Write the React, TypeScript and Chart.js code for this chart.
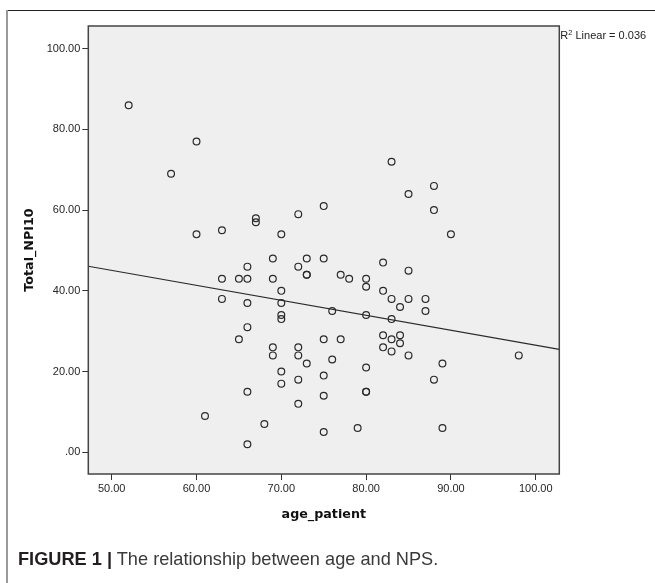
import React, { useEffect, useRef } from "react";
import { Chart, registerables } from "chart.js";

Chart.register(...registerables);

// Scatter data: age_patient vs Total_NPI10
const ageValues = [
  52, 57, 60, 60, 63, 67, 67, 70, 72, 75, 83, 85, 88, 88, 90,
  69, 66, 63, 65, 66, 69, 70, 63, 66, 70, 70, 70, 66, 65, 69,
  69, 70, 70, 66, 61, 68, 66, 72, 72, 72, 72, 72,
  73, 75, 73, 73, 77, 78, 80, 80, 82, 85, 82, 83, 85, 87, 84,
  87, 76, 80, 83, 75, 77, 82, 83, 84, 84, 82, 83, 85, 73, 76,
  89, 98, 80, 75, 88, 75, 80, 80, 75, 79, 89,
];
const npiValues = [
  86, 69, 77, 54, 55, 58, 57, 54, 59, 61, 72, 64, 66, 60, 54,
  48, 46, 43, 43, 43, 43, 40, 38, 37, 37, 34, 33, 31, 28, 26,
  24, 20, 17, 15, 9, 7, 2, 46, 26, 24, 18, 12,
  48, 48, 44, 44, 44, 43, 43, 41, 47, 45, 40, 38, 38, 38, 36,
  35, 35, 34, 33, 28, 28, 29, 28, 29, 27, 26, 25, 24, 22, 23,
  22, 24, 21, 19, 18, 14, 15, 15, 5, 6, 6,
];

// Fit line end points
const fitAge = [47.24, 102.78];
const fitNpi = [46.1, 25.5];

const xRange = [47.24, 102.78];
const yRange = [-5.38, 105.62];
const rSquaredText = "0.036";

const tickFmt = (v: number) => (v === 0 ? ".00" : Number(v).toFixed(2));

const framePlugin = {
  id: "spssFrame",
  beforeDraw(chart: any) {
    const { ctx, chartArea: a } = chart;
    ctx.save();
    ctx.fillStyle = "#efefef";
    ctx.fillRect(a.left, a.top, a.right - a.left, a.bottom - a.top);
    ctx.restore();
  },
  afterDraw(chart: any) {
    const { ctx, chartArea: a } = chart;
    ctx.save();
    ctx.strokeStyle = "#444";
    ctx.lineWidth = 1.5;
    ctx.strokeRect(a.left, a.top, a.right - a.left, a.bottom - a.top);
    // R² label
    const f = "Liberation Sans, Arial, sans-serif";
    ctx.fillStyle = "#222";
    ctx.textBaseline = "alphabetic";
    let x = a.right + 1;
    const base = a.top + 12.5;
    ctx.font = `11px ${f}`;
    ctx.fillText("R", x, base);
    x += ctx.measureText("R").width;
    ctx.font = `7.5px ${f}`;
    ctx.fillText("2", x, base - 4);
    x += ctx.measureText("2").width;
    ctx.font = `11px ${f}`;
    ctx.fillText(" Linear = " + rSquaredText, x, base);
    ctx.restore();
  },
};

export default function App() {
  const ref = useRef<HTMLCanvasElement | null>(null);

  useEffect(() => {
    if (!ref.current) return;
    const points = ageValues.map((a, i) => ({ x: a, y: npiValues[i] }));
    const fit = fitAge.map((a, i) => ({ x: a, y: fitNpi[i] }));
    const tickFont = { family: "Liberation Sans, Arial, sans-serif", size: 11 };
    const titleFont = { family: "DejaVu Sans, Verdana, sans-serif", size: 12.7, weight: "bold" as const };
    const chart = new Chart(ref.current, {
      type: "scatter",
      data: {
        datasets: [
          {
            type: "scatter",
            data: points,
            pointStyle: "circle",
            pointRadius: 3.4,
            pointBorderWidth: 1.2,
            pointBorderColor: "#2a2a2a",
            pointBackgroundColor: "rgba(0,0,0,0)",
            borderColor: "#2a2a2a",
            backgroundColor: "rgba(0,0,0,0)",
          },
          {
            type: "line",
            data: fit,
            borderColor: "#2a2a2a",
            borderWidth: 1.1,
            pointRadius: 0,
            fill: false,
          } as any,
        ],
      },
      options: {
        animation: false,
        responsive: false,
        devicePixelRatio: 1,
        layout: { padding: { left: 0, top: 26, right: 95.7, bottom: 43 } },
        plugins: { legend: { display: false }, tooltip: { enabled: false } },
        scales: {
          x: {
            type: "linear",
            min: xRange[0],
            max: xRange[1],
            afterFit: (s: any) => {
              s.height = 66;
            },
            ticks: {
              stepSize: 10,
              includeBounds: false,
              callback: (v: any) => tickFmt(v),
              font: tickFont,
              color: "#262626",
              padding: 2,
              maxRotation: 0,
            },
            grid: { drawOnChartArea: false, drawTicks: true, tickLength: 6, color: "#333" },
            border: { display: false },
            title: {
              display: true,
              text: "age_patient",
              font: titleFont,
              color: "#111",
              padding: { top: 0, bottom: 17.4 },
            },
          },
          y: {
            type: "linear",
            min: yRange[0],
            max: yRange[1],
            afterFit: (s: any) => {
              s.width = 88.3;
            },
            ticks: {
              stepSize: 20,
              includeBounds: false,
              callback: (v: any) => tickFmt(v),
              font: tickFont,
              color: "#262626",
              padding: 2,
            },
            grid: { drawOnChartArea: false, drawTicks: true, tickLength: 6, color: "#333" },
            border: { display: false },
            title: {
              display: true,
              text: "Total_NPI10",
              font: titleFont,
              color: "#111",
              padding: { top: 22.4, bottom: 0 },
            },
          },
        },
      },
      plugins: [framePlugin],
    });
    return () => chart.destroy();
  }, []);

  return (
    <div style={{ position: "absolute", left: 0, top: 0, width: 655, height: 583, background: "#fff", overflow: "hidden" }}>
      <div style={{ position: "absolute", left: 6, top: 10, width: 649, height: 0, borderTop: "1px solid #222" }} />
      <div style={{ position: "absolute", left: 6, top: 10, width: 0, height: 573, borderLeft: "2px solid #9a9a9a" }} />
      <canvas ref={ref} width={655} height={583} style={{ position: "absolute", left: 0, top: 0, width: 655, height: 583 }} />
      <div
        style={{
          position: "absolute",
          left: 18,
          top: 548,
          lineHeight: "22px",
          fontFamily: "Liberation Sans, Arial, sans-serif",
          fontSize: 18.2,
          color: "#3a3a3a",
          whiteSpace: "nowrap",
        }}
      >
        <span style={{ fontWeight: "bold", color: "#231f20" }}>FIGURE 1 |</span> The relationship between age and NPS.
      </div>
    </div>
  );
}
